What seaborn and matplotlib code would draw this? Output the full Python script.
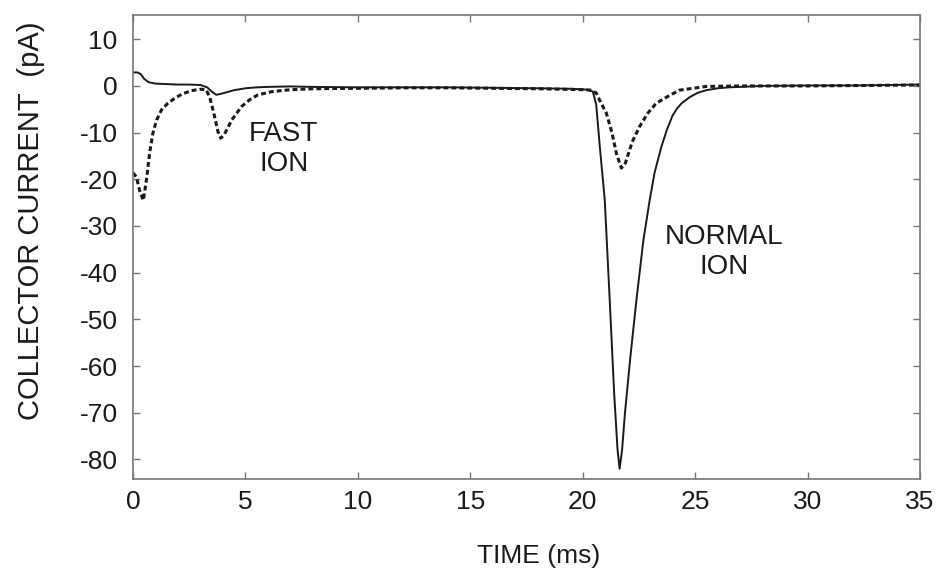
import seaborn as sns
import pandas as pd
import matplotlib.pyplot as plt

# solid trace (normal ion)
t_solid = [0, 0.2, 0.35, 0.5, 0.7, 1.0, 1.5, 2.0, 2.5, 3.0, 3.3, 3.5, 3.7, 3.9, 4.2, 4.5,
           5.0, 5.5, 6.0, 7.0, 8.0, 10, 12, 14, 16, 18, 19.5, 20.2, 20.45, 20.6, 20.76,
           20.98, 21.2, 21.4, 21.55, 21.64, 21.75, 21.88, 22.12, 22.39, 22.7, 22.98, 23.2,
           23.5, 23.75, 24.0, 24.2, 24.4, 24.76, 25.1, 25.5, 26.0, 26.5, 28, 30, 32, 35]
i_solid = [2.9, 2.9, 2.5, 1.5, 0.8, 0.5, 0.4, 0.3, 0.3, 0.2, -0.3, -1.2, -1.9, -1.7, -1.3, -0.9,
           -0.5, -0.3, -0.2, -0.1, -0.2, -0.3, -0.3, -0.3, -0.4, -0.5, -0.6, -0.8, -1.2, -4, -13,
           -24.4, -45.8, -66, -78, -82, -78, -70, -58, -45.8, -33, -24.4, -18.5,
           -13, -9.3, -6.3, -4.8, -3.7, -2.4, -1.5, -0.9, -0.5, -0.3, 0, 0.1, 0.1, 0.3]

# dashed trace (fast ion)
t_dash = [0, 0.15, 0.3, 0.46, 0.6, 0.75, 0.89, 1.05, 1.27, 1.55, 1.87, 2.2, 2.6, 3.0, 3.25,
          3.42, 3.6, 3.78, 3.9, 4.05, 4.39, 4.83, 5.2, 5.56, 6.2, 7, 8, 10, 12, 14, 16, 18,
          20, 20.4, 20.6, 20.8, 21.05, 21.3, 21.5, 21.72, 21.9, 22.2, 22.53, 22.9, 23.27,
          23.8, 24.3, 25.5, 27, 30, 35]
i_dash = [-18.6, -19.5, -22.5, -24.5, -20, -14, -10, -7.3, -5.1, -3.7, -2.6, -1.7, -1.0, -0.7, -0.8,
          -2.5, -6, -9.8, -11.2, -10.5, -7.3, -4.4, -2.9, -1.9, -1.2, -0.8, -0.6, -0.5, -0.4, -0.4, -0.5, -0.6,
          -0.8, -0.9, -1.5, -3.5, -5.8, -10, -14.5, -17.6, -16.5, -12, -8.7, -5.8, -3.7,
          -2.2, -0.9, -0.1, 0, 0, 0.2]

x_ticks = [0, 5, 10, 15, 20, 25, 30, 35]
y_ticks = [10, 0, -10, -20, -30, -40, -50, -60, -70, -80]

sns.set_theme(style="white")
plt.rcParams['font.family'] = ['Liberation Sans', 'DejaVu Sans']
plt.rcParams['axes.unicode_minus'] = False

solid = pd.DataFrame({'t': t_solid, 'i': i_solid})
dash = pd.DataFrame({'t': t_dash, 'i': i_dash})

fig, ax = plt.subplots(figsize=(9.41, 5.68), dpi=100)
fig.subplots_adjust(left=133/941, right=920/941, top=1-15/568, bottom=1-479/568)

sns.lineplot(data=solid, x='t', y='i', ax=ax, color='#1a1a1a', lw=1.4, sort=False)
sns.lineplot(data=dash, x='t', y='i', ax=ax, color='#1a1a1a', lw=2.2, sort=False,
             dashes=False, linestyle=(0, (1.6, 1.0)))

ax.set_xlim(0, 35)
ax.set_ylim(-84.2, 15.2)
ax.set_xticks(x_ticks)
ax.set_yticks(y_ticks)
ax.tick_params(direction='in', top=True, right=True, bottom=True, left=True,
               length=5, width=1, color='#777777', labelsize=19, labelcolor='#1a1a1a')
ax.tick_params(axis='x', pad=8)
ax.tick_params(axis='y', pad=11)
for s in ax.spines.values():
    s.set_color('#777777')
    s.set_linewidth(1.2)

ax.set_xlabel('TIME (ms)', fontsize=19, color='#1a1a1a')
ax.set_ylabel('COLLECTOR CURRENT  (pA)', fontsize=21, color='#1a1a1a')
ax.xaxis.set_label_coords(0.515, -0.14)
ax.yaxis.set_label_coords(-0.112, 0.556)

ax.text(6.7, -13.6, 'FAST\nION', ha='center', va='center', fontsize=20,
        color='#1a1a1a', linespacing=1.2)
ax.text(26.3, -35.6, 'NORMAL\nION', ha='center', va='center', fontsize=20,
        color='#1a1a1a', linespacing=1.2)

fig.savefig('out.png', dpi=100)
